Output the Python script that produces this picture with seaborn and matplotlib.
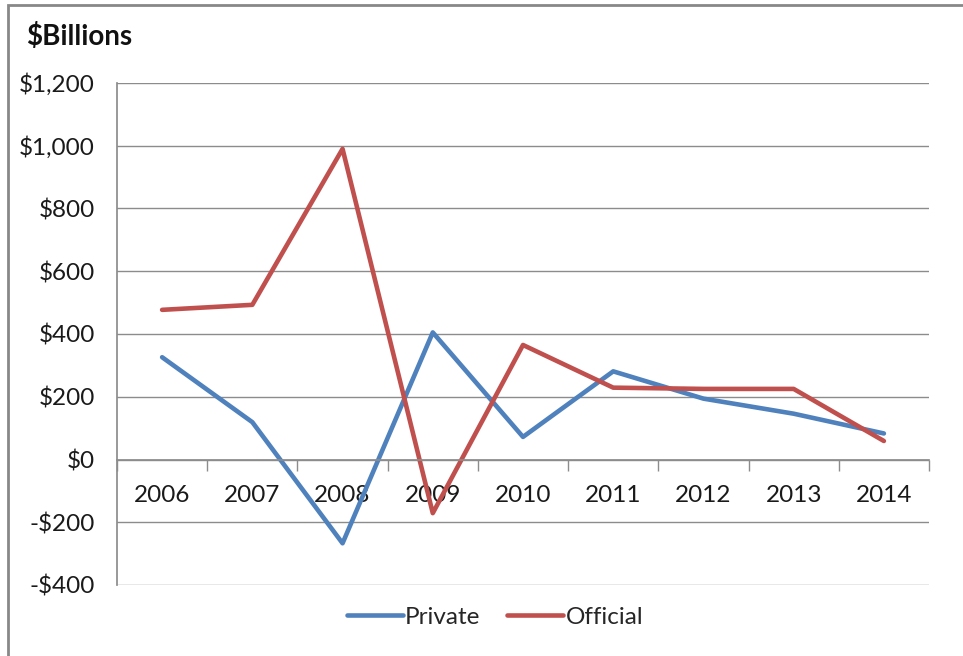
import matplotlib
matplotlib.use("Agg")
import matplotlib.pyplot as plt
from matplotlib.ticker import FixedLocator, FuncFormatter
from matplotlib.patches import Rectangle
import pandas as pd
import seaborn as sns

years = ["2006", "2007", "2008", "2009", "2010", "2011", "2012", "2013", "2014"]
private = [326, 119, -267, 405, 72, 281, 194, 146, 83]
official = [477, 493, 990, -171, 365, 229, 225, 225, 59]
series_names = ["Private", "Official"]
series_colors = ["#4F81BD", "#C0504D"]
y_ticks = [-400, -200, 0, 200, 400, 600, 800, 1000, 1200]

df = pd.DataFrame({
    "Year": years * 2,
    "Value": private + official,
    "Series": ["Private"] * len(years) + ["Official"] * len(years),
})

sns.set_theme(style="white")
plt.rcParams["font.family"] = ["Lato", "DejaVu Sans"]

grid_c = "#8C8C8C"

fig = plt.figure(figsize=(9.63, 6.56), dpi=100)
ax = fig.add_axes([117 / 963, 1 - 585 / 656, (929 - 117) / 963, (585 - 83) / 656])

sns.lineplot(data=df, x="Year", y="Value", hue="Series", hue_order=series_names,
             palette=series_colors, linewidth=3.3, sort=False, legend=False, ax=ax)

ax.set_xlim(-0.5, len(years) - 0.5)
ax.set_ylim(-400, 1200)
ax.set_yticks(y_ticks)
ax.yaxis.set_major_formatter(FuncFormatter(
    lambda v, p: f"-${abs(v):,.0f}" if v < 0 else f"${v:,.0f}"))
ax.yaxis.grid(True, color=grid_c, linewidth=1)
ax.set_axisbelow(True)
ax.tick_params(axis="y", length=9, color=grid_c, width=1, labelsize=17.5,
               pad=7, labelcolor="#1a1a1a")

# category axis crosses at zero
ax.spines["bottom"].set_position(("data", 0))
ax.spines["bottom"].set_color(grid_c)
ax.spines["left"].set_color(grid_c)
ax.spines["top"].set_visible(False)
ax.spines["right"].set_visible(False)
ax.xaxis.set_minor_locator(FixedLocator([i + 0.5 for i in range(-1, len(years))]))
ax.tick_params(axis="x", which="major", length=0, labelsize=17.5, pad=18,
               labelcolor="#1a1a1a")
ax.tick_params(axis="x", which="minor", length=8, color=grid_c, width=1,
               direction="out", bottom=True)
ax.set_xlabel("")
ax.set_ylabel("")

fig.text(26 / 963, 1 - 37 / 656, "$Billions", fontsize=20, fontweight="bold",
         va="center", ha="left", color="#111111")

handles = [plt.Line2D([], [], color=c, linewidth=3.3) for c in series_colors]
fig.legend(handles, series_names, loc="center", bbox_to_anchor=(495 / 963, 1 - 617 / 656),
           ncol=2, frameon=False, fontsize=17.5, handlelength=2.3, handletextpad=0.1,
           columnspacing=1.1)

fig.patches.append(Rectangle((8 / 963, -0.05), 1.1, 1 - 5 / 656 + 0.05, fill=False,
                             edgecolor="#888888", linewidth=2,
                             transform=fig.transFigure, figure=fig))

fig.savefig("out.png", dpi=100, facecolor="white")
